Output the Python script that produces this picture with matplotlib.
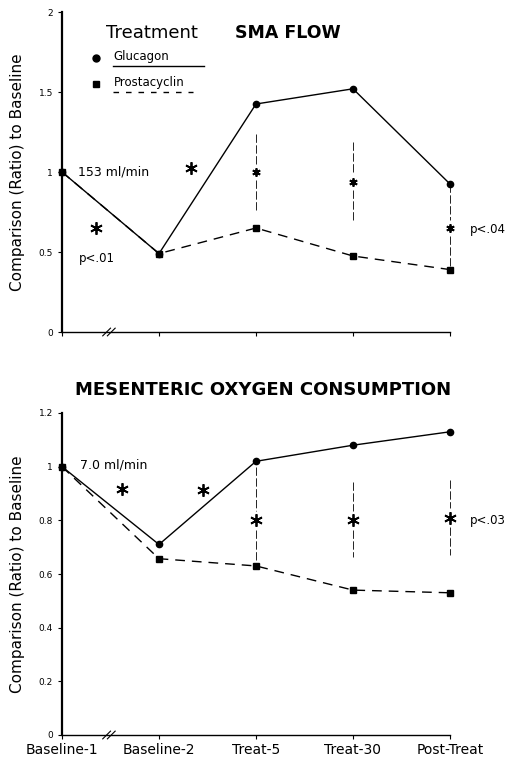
import matplotlib.pyplot as plt
import numpy as np

plt.rcParams['font.family'] = ['DejaVu Sans']

periods = ["Baseline-1", "Baseline-2", "Treat-5", "Treat-30", "Post-Treat"]
x = np.arange(len(periods))

# SMA flow (ratio to baseline)
sma_glucagon = [1.0, 0.49, 1.425, 1.52, 0.925]
sma_prostacyclin = [1.0, 0.49, 0.65, 0.475, 0.39]

# Mesenteric oxygen consumption (ratio to baseline)
oxy_glucagon = [1.0, 0.71, 1.02, 1.08, 1.13]
oxy_prostacyclin = [1.0, 0.657, 0.63, 0.54, 0.53]

# significance stars: (x, y, size)
sma_stars = [(0.35, 0.65, 9), (1.33, 1.025, 9), (2, 1.0, 6), (3, 0.94, 6), (4, 0.65, 6)]
oxy_stars = [(0.62, 0.918, 9), (1.45, 0.914, 9), (2, 0.80, 9), (3, 0.80, 9), (4, 0.81, 9)]
# vertical dashed links: (x, top, bottom)
sma_links = [(2, 1.24, 0.76), (3, 1.19, 0.69), (4, 0.925, 0.39)]
oxy_links = [(2, 1.0, 0.63), (3, 0.944, 0.664), (4, 0.95, 0.67)]

fig = plt.figure(figsize=(5.12, 7.61), dpi=100)
ax1 = fig.add_axes([62/512, 1-332/761, 388/512, 320/761])
ax2 = fig.add_axes([62/512, 1-735/761, 388/512, 322/761])


def style(ax, ymax, yticks, ylabels):
  ax.set_xlim(0, 4)
  ax.set_ylim(0, ymax)
  ax.spines['top'].set_visible(False)
  ax.spines['right'].set_visible(False)
  ax.spines['left'].set_linewidth(1.6)
  ax.spines['bottom'].set_linewidth(1.0)
  ax.set_yticks(yticks)
  ax.set_yticklabels(ylabels, fontsize=6.5)
  ax.set_xticks(x)
  ax.tick_params(axis='both', length=3, width=0.8, direction='out')
  ax.set_ylabel("Comparison (Ratio) to Baseline", fontsize=11, labelpad=10)
  # axis break mark
  for dx in (0, 0.012):
    ax.plot([0.105 + dx, 0.125 + dx], [-0.012, 0.012], color='black', lw=0.8,
            transform=ax.transAxes, clip_on=False)


def draw(ax, gluc, pros, stars, links, gap):
  ax.plot(x, gluc, '-', color='black', lw=1.0, marker='o', ms=4.5, clip_on=False, zorder=3)
  ax.plot(x, pros, color='black', lw=1.0, ls=(0, (7, 5)), marker='s', ms=4.5,
          clip_on=False, zorder=3)
  for sx, sy, size in stars:
    ax.plot(sx, sy, marker=(6, 2, 0), ms=size, mew=1.3, color='black', ls='none',
            clip_on=False)
  for lx, top, bot in links:
    ys = [s[1] for s in stars if s[0] == lx][0]
    for a, b in ((top, ys + gap), (ys - gap, bot)):
      ax.plot([lx, lx], [a, b], color='black', lw=0.6, ls=(0, (10, 3)), clip_on=False)


style(ax1, 2, [0, 0.5, 1, 1.5, 2], ["0", "0.5", "1", "1.5", "2"])
ax1.set_xticklabels([])
draw(ax1, sma_glucagon, sma_prostacyclin, sma_stars, sma_links, 0.05)
ax1.text(0.16, 1.0, "153 ml/min", fontsize=9, va='center')
ax1.text(0.17, 0.46, "p<.01", fontsize=8.5, va='center')
ax1.text(4.2, 0.64, "p<.04", fontsize=8.5, va='center', clip_on=False)

# legend block
ax1.text(0.45, 1.87, "Treatment", fontsize=13, va='center')
ax1.text(1.78, 1.87, "SMA FLOW", fontsize=12.5, fontweight='bold', va='center')
ax1.plot([0.35], [1.71], 'o', color='black', ms=5)
ax1.plot([0.35], [1.55], 's', color='black', ms=5)
ax1.text(0.53, 1.72, "Glucagon", fontsize=8.5, va='center')
ax1.text(0.53, 1.56, "Prostacyclin", fontsize=8.5, va='center')
ax1.plot([0.53, 1.46], [1.66, 1.66], color='black', lw=1.0)
ax1.plot([0.53, 1.35], [1.50, 1.50], color='black', lw=1.0, ls=(0, (4, 5)))

style(ax2, 1.2, [0, 0.2, 0.4, 0.6, 0.8, 1, 1.2],
      ["0", "0.2", "0.4", "0.6", "0.8", "1", "1.2"])
ax2.set_xticklabels(periods, fontsize=10)
ax2.tick_params(axis='x', pad=3)
draw(ax2, oxy_glucagon, oxy_prostacyclin, oxy_stars, oxy_links, 0.035)
ax2.text(0.19, 1.005, "7.0 ml/min", fontsize=9, va='center')
ax2.text(4.2, 0.80, "p<.03", fontsize=8.5, va='center', clip_on=False)
fig.text(263/512, 1-390/761, "MESENTERIC OXYGEN CONSUMPTION", fontsize=13,
         fontweight='bold', ha='center', va='center')

fig.savefig("out.png", dpi=100)
